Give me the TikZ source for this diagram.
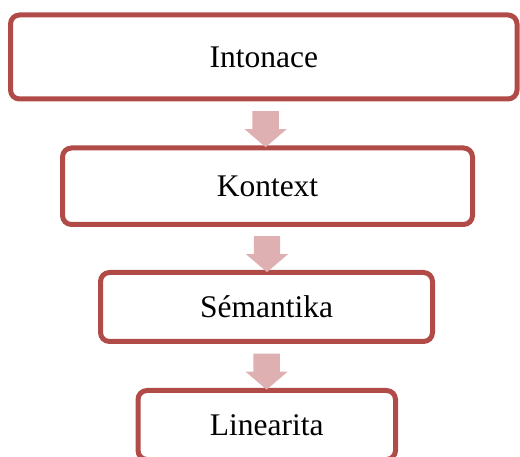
\documentclass[tikz,border=0pt]{standalone}
\usepackage{fontspec}
\setmainfont{Liberation Serif}
\usetikzlibrary{shapes.arrows}
\definecolor{boxred}{HTML}{B14B48}
\definecolor{arrowpink}{HTML}{DEB0B1}
\begin{document}
\begin{tikzpicture}
[
    x=1pt, y=-1pt,
    stepbox/.style={draw=boxred, line width=5pt, rounded corners=9pt, fill=white, inner sep=0pt,
        font=\fontsize{31.5}{38}\selectfont},
    downarrow/.style={single arrow, fill=arrowpink, draw=none, inner xsep=0pt, inner ysep=13pt, rotate=-90,
        minimum height=36pt, single arrow head extend=8pt, single arrow tip angle=99}
]
    \useasboundingbox (0,0) rectangle (520,457);
    \clip (0,0) rectangle (520,457);

    \node [stepbox, minimum width=506.5pt, minimum height=84pt] (intonace) at (263.75,57) {Intonace};
    \node [stepbox, minimum width=410pt, minimum height=76.5pt] (kontext) at (267.5,186.25) {Kontext};
    \node [stepbox, minimum width=332pt, minimum height=69pt] (semantika) at (266.5,307) {Sémantika};
    \node [stepbox, minimum width=257.5pt, minimum height=69pt] (linearita) at (266.75,425) {Linearita};

    \path (intonace.south) -- (kontext.north) node [downarrow, midway] (a1) {};
    \path (kontext.south) -- (semantika.north) node [downarrow, midway] (a2) {};
    \path (semantika.south) -- (linearita.north) node [downarrow, midway] (a3) {};
\end{tikzpicture}
\end{document}
